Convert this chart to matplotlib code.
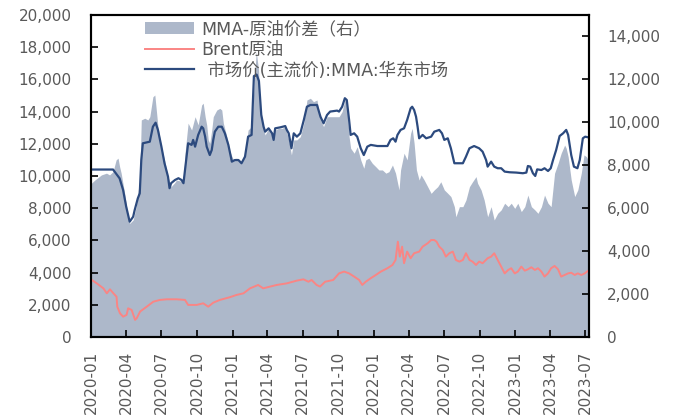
import pandas as pd
import matplotlib.pyplot as plt
import matplotlib.dates as mdates
from matplotlib.patches import Patch
from matplotlib.lines import Line2D
from matplotlib.ticker import FuncFormatter

plt.rcParams['font.family'] = ['DejaVu Sans', 'Noto Sans CJK SC']

# MMA-原油价差（右） - right axis
spread_dates = ['2020-01-02', '2020-01-11', '2020-01-28', '2020-02-10', '2020-02-18', '2020-02-27',
                '2020-03-06', '2020-03-11', '2020-03-15', '2020-03-19', '2020-03-28', '2020-04-06',
                '2020-04-10', '2020-04-19', '2020-04-27', '2020-05-01', '2020-05-06', '2020-05-10',
                '2020-05-19', '2020-05-27', '2020-06-01', '2020-06-09', '2020-06-14', '2020-06-22',
                '2020-07-01', '2020-07-09', '2020-07-18', '2020-07-26', '2020-08-05', '2020-08-09',
                '2020-08-27', '2020-08-31', '2020-09-08', '2020-09-17', '2020-09-26', '2020-10-04',
                '2020-10-13', '2020-10-17', '2020-10-22', '2020-10-26', '2020-10-30', '2020-11-03',
                '2020-11-08', '2020-11-12', '2020-11-21', '2020-11-29', '2020-12-04', '2020-12-08',
                '2020-12-17', '2020-12-25', '2021-01-03', '2021-01-11', '2021-01-24', '2021-02-02',
                '2021-02-10', '2021-02-19', '2021-02-28', '2021-03-03', '2021-03-09', '2021-03-13',
                '2021-03-18', '2021-03-26', '2021-04-04', '2021-04-13', '2021-04-21', '2021-04-30',
                '2021-05-09', '2021-05-17', '2021-05-26', '2021-06-02', '2021-06-08', '2021-06-16',
                '2021-06-25', '2021-07-04', '2021-07-12', '2021-07-21', '2021-07-29', '2021-08-07',
                '2021-08-16', '2021-08-24', '2021-09-02', '2021-09-15', '2021-09-28', '2021-10-03',
                '2021-10-11', '2021-10-18', '2021-10-23', '2021-10-29', '2021-11-02', '2021-11-11',
                '2021-11-19', '2021-11-28', '2021-12-06', '2021-12-11', '2021-12-19', '2021-12-28',
                '2022-01-06', '2022-01-14', '2022-01-23', '2022-02-01', '2022-02-09', '2022-02-18',
                '2022-02-26', '2022-03-07', '2022-03-11', '2022-03-20', '2022-03-28', '2022-04-06',
                '2022-04-10', '2022-04-15', '2022-04-21', '2022-04-28', '2022-05-03', '2022-05-11',
                '2022-05-20', '2022-05-29', '2022-06-06', '2022-06-15', '2022-06-23', '2022-07-02',
                '2022-07-11', '2022-07-19', '2022-07-28', '2022-08-01', '2022-08-10', '2022-08-19',
                '2022-08-27', '2022-09-05', '2022-09-13', '2022-09-22', '2022-09-26', '2022-10-05',
                '2022-10-13', '2022-10-22', '2022-10-31', '2022-11-08', '2022-11-17', '2022-11-26',
                '2022-12-05', '2022-12-14', '2022-12-22', '2022-12-31', '2023-01-08', '2023-01-17',
                '2023-01-26', '2023-02-03', '2023-02-12', '2023-02-21', '2023-03-01', '2023-03-10',
                '2023-03-18', '2023-03-27', '2023-04-04', '2023-04-13', '2023-04-22', '2023-04-30',
                '2023-05-09', '2023-05-13', '2023-05-18', '2023-05-26', '2023-06-04', '2023-06-12',
                '2023-06-21', '2023-06-28', '2023-07-04', '2023-07-09']
spread = [7160, 7310, 7550, 7630, 7550, 7700,
          8250, 8330, 7930, 7630, 6690, 5600,
          5290, 5450, 6070, 6690, 7310, 10110,
          10190, 10110, 10260, 11190, 11270, 9800,
          8860, 8250, 7470, 7000, 7200, 7310,
          7230, 8560, 9960, 9640, 10260, 9880,
          10810, 10890, 10260, 9880, 9180, 9020,
          9640, 10260, 10570, 10650, 10570, 9960,
          9330, 8630, 8250, 8330, 8090, 8560,
          9640, 9800, 12440, 13300, 12440, 10730,
          9960, 9410, 9720, 9410, 9640, 9720,
          9720, 9800, 9180, 8480, 9180, 9180,
          9330, 9960, 11040, 11120, 10960, 11040,
          10110, 9800, 10260, 10260, 10260, 10260,
          10500, 11040, 10890, 9330, 8790, 8560,
          8860, 8250, 7860, 8250, 8330, 8090,
          7930, 7780, 7780, 7630, 7700, 8010,
          7630, 6850, 7780, 8560, 8250, 9490,
          9720, 9020, 7780, 7310, 7550, 7310,
          7000, 6690, 6850, 7000, 7230, 6850,
          6690, 6540, 6070, 5600, 6070, 6070,
          6380, 7000, 7230, 7470, 7160, 6850,
          6380, 5600, 6070, 5450, 5760, 5920,
          6230, 6070, 6230, 5990, 6230, 5840,
          6070, 6610, 6070, 5920, 5760, 6070,
          6610, 6230, 6070, 7630, 8090, 8560,
          8940, 8790, 8400, 7310, 6540, 6850,
          7630, 8480, 8400, 8250]

# Brent原油 - left axis
brent_dates = ['2020-01-03', '2020-01-16', '2020-02-02', '2020-02-11', '2020-02-19', '2020-02-28',
               '2020-03-07', '2020-03-09', '2020-03-16', '2020-03-24', '2020-04-02', '2020-04-06',
               '2020-04-15', '2020-04-24', '2020-04-28', '2020-05-07', '2020-05-24', '2020-06-10',
               '2020-06-27', '2020-07-15', '2020-08-09', '2020-08-31', '2020-09-08', '2020-09-30',
               '2020-10-17', '2020-10-30', '2020-11-12', '2020-11-29', '2020-12-25', '2021-01-11',
               '2021-01-29', '2021-02-15', '2021-03-08', '2021-03-21', '2021-04-08', '2021-04-25',
               '2021-05-21', '2021-06-16', '2021-07-03', '2021-07-16', '2021-07-24', '2021-08-06',
               '2021-08-15', '2021-08-28', '2021-09-18', '2021-10-03', '2021-10-16', '2021-10-29',
               '2021-11-11', '2021-11-24', '2021-12-02', '2021-12-11', '2021-12-24', '2022-01-06',
               '2022-01-19', '2022-02-05', '2022-02-18', '2022-02-26', '2022-03-04', '2022-03-09',
               '2022-03-15', '2022-03-20', '2022-03-28', '2022-04-06', '2022-04-15', '2022-04-28',
               '2022-05-07', '2022-05-20', '2022-05-29', '2022-06-06', '2022-06-12', '2022-06-19',
               '2022-06-28', '2022-07-06', '2022-07-15', '2022-07-24', '2022-08-01', '2022-08-10',
               '2022-08-19', '2022-08-27', '2022-09-05', '2022-09-13', '2022-09-22', '2022-09-30',
               '2022-10-09', '2022-10-22', '2022-10-31', '2022-11-08', '2022-11-17', '2022-11-26',
               '2022-12-05', '2022-12-14', '2022-12-22', '2022-12-31', '2023-01-08', '2023-01-17',
               '2023-01-26', '2023-02-03', '2023-02-12', '2023-02-21', '2023-03-01', '2023-03-10',
               '2023-03-18', '2023-03-27', '2023-04-04', '2023-04-13', '2023-04-22', '2023-04-30',
               '2023-05-09', '2023-05-18', '2023-05-26', '2023-06-04', '2023-06-12', '2023-06-21',
               '2023-06-30', '2023-07-09']
brent = [3540, 3330, 3020, 2710, 2960, 2710,
         2500, 1880, 1470, 1260, 1370, 1780,
         1680, 1060, 1160, 1580, 1880, 2190,
         2300, 2340, 2340, 2300, 1990, 1990,
         2090, 1880, 2130, 2300, 2470, 2610,
         2710, 3020, 3230, 3020, 3130, 3230,
         3330, 3500, 3580, 3430, 3540, 3230,
         3130, 3430, 3540, 3950, 4060, 3950,
         3750, 3540, 3230, 3430, 3650, 3850,
         4060, 4270, 4470, 4780, 5920, 4990,
         5610, 4580, 5300, 4890, 5200, 5300,
         5610, 5820, 6020, 6020, 5920, 5610,
         5400, 4990, 5200, 5300, 4780, 4680,
         4780, 5200, 4780, 4680, 4470, 4680,
         4580, 4890, 4990, 5200, 4780, 4370,
         3950, 4160, 4270, 3950, 4060, 4370,
         4120, 4200, 4330, 4160, 4270, 4060,
         3750, 3950, 4270, 4410, 4200, 3750,
         3850, 3950, 3990, 3850, 3950, 3850,
         3950, 4120]

# 市场价(主流价):MMA:华东市场 - left axis
mma_dates = ['2020-01-01', '2020-02-27', '2020-03-15', '2020-03-24', '2020-04-01', '2020-04-10',
             '2020-04-19', '2020-04-23', '2020-05-01', '2020-05-06', '2020-05-10', '2020-05-14',
             '2020-06-01', '2020-06-09', '2020-06-16', '2020-06-22', '2020-07-01', '2020-07-09',
             '2020-07-18', '2020-07-22', '2020-07-26', '2020-08-05', '2020-08-14', '2020-08-22',
             '2020-08-27', '2020-08-31', '2020-09-04', '2020-09-08', '2020-09-17', '2020-09-21',
             '2020-09-26', '2020-10-04', '2020-10-13', '2020-10-17', '2020-10-22', '2020-10-26',
             '2020-11-03', '2020-11-08', '2020-11-12', '2020-11-16', '2020-11-25', '2020-12-04',
             '2020-12-12', '2020-12-21', '2020-12-30', '2021-01-07', '2021-01-16', '2021-01-24',
             '2021-02-02', '2021-02-10', '2021-02-19', '2021-02-25', '2021-03-04', '2021-03-10',
             '2021-03-16', '2021-03-22', '2021-03-26', '2021-04-04', '2021-04-13', '2021-04-17',
             '2021-04-21', '2021-05-04', '2021-05-17', '2021-05-21', '2021-05-26', '2021-06-02',
             '2021-06-08', '2021-06-16', '2021-06-25', '2021-07-04', '2021-07-12', '2021-07-21',
             '2021-08-07', '2021-08-16', '2021-08-24', '2021-09-02', '2021-09-10', '2021-09-28',
             '2021-10-03', '2021-10-11', '2021-10-18', '2021-10-23', '2021-10-29', '2021-11-02',
             '2021-11-11', '2021-11-19', '2021-11-28', '2021-12-06', '2021-12-15', '2021-12-24',
             '2022-01-10', '2022-02-05', '2022-02-13', '2022-02-20', '2022-02-26', '2022-03-03',
             '2022-03-11', '2022-03-20', '2022-03-28', '2022-04-06', '2022-04-10', '2022-04-15',
             '2022-04-20', '2022-04-24', '2022-04-28', '2022-05-07', '2022-05-16', '2022-05-29',
             '2022-06-06', '2022-06-19', '2022-06-26', '2022-07-02', '2022-07-11', '2022-07-19',
             '2022-07-28', '2022-08-19', '2022-08-27', '2022-09-05', '2022-09-17', '2022-09-30',
             '2022-10-09', '2022-10-18', '2022-10-22', '2022-10-31', '2022-11-08', '2022-11-17',
             '2022-11-26', '2022-12-05', '2022-12-18', '2023-01-04', '2023-01-21', '2023-01-30',
             '2023-02-03', '2023-02-09', '2023-02-16', '2023-02-22', '2023-02-27', '2023-03-10',
             '2023-03-18', '2023-03-27', '2023-04-03', '2023-04-09', '2023-04-17', '2023-04-26',
             '2023-05-05', '2023-05-13', '2023-05-18', '2023-05-26', '2023-06-02', '2023-06-11',
             '2023-06-17', '2023-06-25', '2023-07-01', '2023-07-09']
mma = [10400, 10400, 9850, 9130, 8090, 7160,
       7470, 7890, 8610, 8920, 10990, 12030,
       12130, 13060, 13310, 12860, 11820, 10790,
       9960, 9240, 9550, 9750, 9860, 9750,
       9550, 10370, 11200, 12030, 11930, 12240,
       11820, 12550, 13060, 12960, 12440, 11820,
       11300, 11610, 12240, 12750, 13060, 13060,
       12650, 11930, 10890, 10990, 10990, 10790,
       11200, 12440, 12550, 16200, 16300, 15900,
       13800, 13060, 12750, 12960, 12650, 12240,
       12960, 13020, 13100, 12860, 12650, 11720,
       12650, 12440, 12650, 13480, 14300, 14410,
       14410, 13680, 13270, 13790, 14000, 14060,
       14000, 14300, 14830, 14720, 13480, 12550,
       12650, 12440, 11720, 11300, 11820, 11930,
       11860, 11860, 12240, 12340, 12130, 12550,
       12860, 12960, 13480, 14200, 14300, 14100,
       13680, 13060, 12340, 12550, 12340, 12440,
       12750, 12860, 12650, 12240, 12340, 11720,
       10790, 10790, 11200, 11720, 11860, 11720,
       11510, 10990, 10580, 10890, 10580, 10480,
       10480, 10270, 10230, 10210, 10170, 10210,
       10620, 10580, 10170, 10000, 10410, 10370,
       10480, 10310, 10480, 10990, 11610, 12480,
       12650, 12860, 12550, 11300, 10580, 10480,
       10990, 12340, 12440, 12400]

left_ticks = list(range(0, 20001, 2000))
right_ticks = list(range(0, 14001, 2000))

spread_x = pd.to_datetime(spread_dates)
brent_x = pd.to_datetime(brent_dates)
mma_x = pd.to_datetime(mma_dates)

grey = '#595959'
fill_color = '#ADB8CA'
brent_color = '#FA8584'
mma_color = '#2C4A7E'

fig = plt.figure(figsize=(6.79, 4.16), dpi=100)
ax = fig.add_axes([0.134, 0.19, 0.7335, 0.774])
ax2 = ax.twinx()

ax2.fill_between(spread_x, spread, 0, color=fill_color, linewidth=0)
ax2.set_ylim(0, 15000)
ax2.set_yticks(right_ticks)

ax.plot(brent_x, brent, color=brent_color, linewidth=1.4)
ax.plot(mma_x, mma, color=mma_color, linewidth=1.6)
ax.set_ylim(0, 20000)
ax.set_yticks(left_ticks)

ax.set_zorder(ax2.get_zorder() + 1)
ax.patch.set_visible(False)

ax.set_xlim(pd.Timestamp('2020-01-01'), pd.Timestamp('2023-07-11'))
ax.xaxis.set_major_locator(mdates.MonthLocator(bymonth=[1, 4, 7, 10]))
ax.xaxis.set_major_formatter(mdates.DateFormatter('%Y-%m'))

fmt = FuncFormatter(lambda v, p: f'{int(v):,}')
ax.yaxis.set_major_formatter(fmt)
ax2.yaxis.set_major_formatter(fmt)

ax.tick_params(axis='y', direction='in', length=5, width=1.2, labelsize=11, labelcolor=grey, pad=14)
ax2.tick_params(axis='y', direction='in', length=5, width=1.2, labelsize=11, labelcolor=grey, pad=13)
ax.tick_params(axis='x', direction='in', length=5, width=1.2, labelsize=11, labelcolor=grey, pad=10,
               labelrotation=90)

for a in (ax, ax2):
    for s in a.spines.values():
        s.set_linewidth(1.5)
        s.set_color('black')

handles = [Patch(facecolor=fill_color, edgecolor='none'),
           Line2D([], [], color=brent_color, linewidth=1.4),
           Line2D([], [], color=mma_color, linewidth=1.6)]
labels = ['MMA-原油价差（右）', 'Brent原油', ' 市场价(主流价):MMA:华东市场']
ax.legend(handles, labels, loc='upper left', bbox_to_anchor=(0.095, 1.005), frameon=False,
          fontsize=12.5, labelcolor=grey, handlelength=2.8, handletextpad=0.45, labelspacing=0.15,
          borderaxespad=0)

plt.savefig('out.png', dpi=100)
